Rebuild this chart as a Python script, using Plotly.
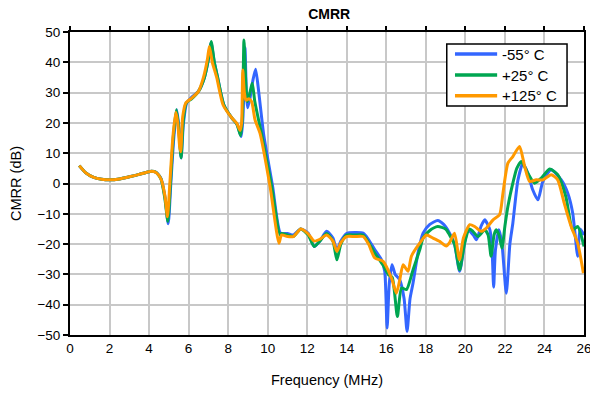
import plotly.graph_objects as go

title_text = "CMRR"
x_title = "Frequency (MHz)"
y_title = "CMRR (dB)"
series_names = ["-55° C", "+25° C", "+125° C"]
x_ticks = list(range(0, 27, 2))
y_ticks = list(range(-50, 51, 10))

freq_m55 = [0.47, 0.8, 1.2, 1.6, 2.0, 2.5, 3.0, 3.5, 4.06, 4.35, 4.6, 4.8, 4.97, 5.1, 5.25, 5.4, 5.52, 5.62, 5.74, 5.9,
            6.16, 6.5, 6.8, 7.0, 7.13, 7.3, 7.45, 7.78, 8.2, 8.45, 8.66, 8.75, 8.85, 8.92, 8.98, 9.1, 9.25, 9.39, 9.55, 9.8,
            10.25, 10.65, 11.0, 11.3, 11.67, 12.05, 12.35, 12.64, 12.98, 13.3, 13.5, 13.7, 13.99, 14.4, 14.83, 15.1, 15.42,
            15.76, 15.92, 16.04, 16.15, 16.29, 16.45, 16.68, 16.9, 17.05, 17.2, 17.35, 17.6, 17.86, 18.2, 18.6, 18.9, 19.2,
            19.45, 19.71, 19.95, 20.13, 20.4, 20.56, 20.8, 20.98, 21.24, 21.35, 21.43, 21.52, 21.7, 21.85, 22.07, 22.25,
            22.4, 22.66, 22.91, 23.16, 23.4, 23.67, 23.92, 24.34, 24.85, 25.18, 25.43, 25.68, 25.8, 26.0]
cmrr_m55 = [5.9, 3.5, 2.0, 1.4, 1.2, 1.5, 2.2, 3.0, 4.0, 3.7, 1.7, -4.3, -13.3, 0, 15, 24.3, 18, 8.4, 20, 26.5,
            28.5, 30.5, 35, 41, 46.5, 40, 35.5, 26, 21.5, 19.5, 15.5, 22, 44.8, 30, 25, 28, 34, 37.7, 30, 16,
            -1, -16.4, -16.5, -17, -15, -16.4, -20.8, -19, -15.8, -18, -22, -19, -16.5, -16.2, -16.4, -18.5, -21.9,
            -25.2, -29, -47.7, -33, -26.8, -30, -31.8, -38, -48.8, -38, -32.9, -23, -16.4, -13.5, -12.2, -13.5, -16.4,
            -20, -29, -20, -15.3, -17, -18.6, -14, -12, -15.3, -22, -34.2, -22, -15.3, -20, -36.2, -20,
            -13.1, 1.2, 6.7, 3.4, -2, -5.4, 0.7, 4.5, 1.2, -3.2, -9.8, -24, -15, -17]

freq_p25 = [0.47, 0.8, 1.2, 1.6, 2.0, 2.5, 3.0, 3.5, 4.06, 4.35, 4.6, 4.8, 4.95, 5.08, 5.22, 5.38, 5.5, 5.62, 5.72, 5.87,
            6.16, 6.5, 6.8, 7.0, 7.14, 7.3, 7.45, 7.78, 8.2, 8.45, 8.63, 8.72, 8.8, 8.88, 8.97, 9.1, 9.22, 9.35, 9.7,
            10.2, 10.62, 10.7, 11.0, 11.3, 11.67, 12.05, 12.35, 12.64, 12.98, 13.3, 13.5, 13.7, 13.99, 14.4, 14.83, 15.1,
            15.42, 15.84, 16.1, 16.3, 16.56, 16.77, 17.02, 17.35, 17.69, 17.86, 18.2, 18.6, 19.0, 19.2, 19.45, 19.71, 19.95,
            20.2, 20.38, 20.64, 20.98, 21.15, 21.3, 21.45, 21.56, 21.7, 21.85, 22.0, 22.15, 22.4, 22.6, 22.83, 23.16,
            23.5, 23.84, 24.26, 24.67, 25.08, 25.43, 25.68, 26.0]
cmrr_p25 = [5.9, 3.5, 2.0, 1.4, 1.2, 1.5, 2.2, 3.0, 4.0, 3.7, 1.5, -5, -12.5, 0, 15, 24.3, 18, 8.5, 20, 26.5,
            28, 30.4, 35, 41, 46.9, 40, 35.5, 26, 21.5, 19.5, 15.8, 22, 47.4, 35, 27, 30, 33.1, 27, 16,
            -1, -17, -16.5, -17, -17.5, -15, -17, -20.8, -19, -16.5, -19, -25.2, -20, -17, -17, -17, -19.5,
            -23, -27, -30, -31, -43.9, -34.5, -35, -28.5, -21.9, -18, -15.5, -14.2, -15, -17, -20, -28.5, -20,
            -15, -15.8, -17.5, -15.3, -17, -24, -17, -15.3, -17, -21.3, -14, -7.6, 0.1, 5, 7.3, 3.4,
            0.1, 1.8, 4.8, 2.9, -4.3, -15.3, -14.2, -20.8]

freq_p125 = [0.47, 0.8, 1.2, 1.6, 2.0, 2.5, 3.0, 3.5, 4.06, 4.35, 4.6, 4.8, 4.93, 5.05, 5.2, 5.35, 5.45, 5.55, 5.6, 5.7,
             5.85, 6.16, 6.5, 6.75, 6.95, 7.05, 7.2, 7.42, 7.74, 8.18, 8.43, 8.6, 8.68, 8.74, 8.82, 8.9, 9.05, 9.19, 9.36,
             9.61, 10.12, 10.57, 10.7, 11.0, 11.3, 11.67, 12.05, 12.35, 12.64, 12.98, 13.3, 13.5, 13.7, 13.99, 14.4, 14.83,
             15.1, 15.42, 15.84, 16.26, 16.51, 16.68, 16.85, 17.1, 17.27, 17.69, 18.03, 18.36, 18.7, 19.03, 19.2, 19.45,
             19.7, 19.9, 20.22, 20.47, 20.8, 21.06, 21.4, 21.73, 21.9, 22.15, 22.4, 22.74, 23.0, 23.25, 23.58, 23.92,
             24.34, 24.67, 25.0, 25.35, 25.68, 25.97]
cmrr_p125 = [5.9, 3.5, 2.0, 1.4, 1.2, 1.5, 2.2, 3.0, 4.0, 3.6, 1.5, -4, -11, 0, 15, 23.5, 20, 12, 10.5, 22,
             26.5, 28.2, 30.4, 35, 41, 45.2, 40, 35, 26, 21.7, 19.9, 17.5, 20, 37.5, 30, 27.5, 28, 27, 21,
             16.6, -1, -19.7, -17, -17.5, -17.5, -15, -16.6, -19, -18.4, -17, -19, -22.4, -19.5, -17.5, -17.5, -17.5,
             -20, -24.6, -25.7, -31.2, -36.2, -31.8, -26.8, -29, -24, -19.7, -17, -18, -19.1, -20.6, -19.5, -16.4,
             -25.2, -18, -13.6, -14.2, -15.8, -14.7, -12, -10.3, -3.2, 6.7, 8.9, 12.2, 5.6, 0.7, 1.2, 1.2,
             2.9, 1.2, -6.5, -14.2, -19.7, -29.6]

colors = ["#3366ff", "#00a651", "#ff9900"]

fig = go.Figure()
for name, xs, ys, c in zip(series_names, [freq_m55, freq_p25, freq_p125],
                           [cmrr_m55, cmrr_p25, cmrr_p125], colors):
    fig.add_trace(go.Scatter(x=xs, y=ys, mode="lines", name=name, showlegend=False,
                             line=dict(color=c, width=3, shape="spline", smoothing=0.6)))

# invisible trace for top axis ticks
fig.add_trace(go.Scatter(x=[0, 26], y=[0, 0], xaxis="x2", mode="lines",
                         line=dict(width=0), showlegend=False, hoverinfo="skip"))

# legend box drawn in paper coordinates
leg_x0, leg_x1, leg_y0, leg_y1 = 0.733, 0.967, 0.756, 0.960
row_y = [0.927, 0.858, 0.790]
shapes = [dict(type="rect", xref="paper", yref="paper", x0=leg_x0, x1=leg_x1, y0=leg_y0, y1=leg_y1,
               line=dict(color="black", width=1.5), fillcolor="white", layer="above")]
annotations = []
for name, c, ry in zip(series_names, colors, row_y):
    shapes.append(dict(type="line", xref="paper", yref="paper", x0=0.749, x1=0.831, y0=ry, y1=ry,
                       line=dict(color=c, width=3.5), layer="above"))
    annotations.append(dict(text=name, xref="paper", yref="paper", x=0.8375, y=ry, xanchor="left",
                            yanchor="middle", showarrow=False, font=dict(size=15)))

font_family = "Liberation Sans, Arial, sans-serif"
fig.update_layout(
    width=590, height=394,
    margin=dict(l=70, r=6, t=32, b=59),
    paper_bgcolor="white", plot_bgcolor="white",
    font=dict(family=font_family, size=13, color="black"),
    title=dict(text="<b>" + title_text + "</b>", x=0.558, xanchor="center", y=0.965, yanchor="middle",
               font=dict(size=14)),
    showlegend=False,
    shapes=shapes,
    annotations=annotations,
    xaxis=dict(range=[0, 26], tickvals=x_ticks, ticks="", showline=True, linecolor="black",
               linewidth=2, mirror=True, showgrid=True, gridcolor="#c8c8c8", gridwidth=1.5,
               zeroline=False, automargin=False, ticklabeloverflow="allow",
               title=dict(text=x_title, font=dict(size=14.5), standoff=20),
               tickfont=dict(size=13.5)),
    xaxis2=dict(range=[0, 26], tickvals=x_ticks, overlaying="x", side="top", ticks="outside",
                ticklen=5, tickcolor="black", tickwidth=1.5, showticklabels=False, showgrid=False,
                zeroline=False, showline=False, automargin=False),
    yaxis=dict(range=[-50, 50], tickvals=y_ticks, ticks="outside", ticklen=5, tickcolor="black",
               tickwidth=1.5, showline=True, linecolor="black", linewidth=2, mirror=True,
               showgrid=True, gridcolor="#c8c8c8", gridwidth=1.5, zeroline=False, automargin=False,
               title=dict(text=y_title, font=dict(size=14.5), standoff=12), tickfont=dict(size=13.5)),
)

fig.write_html("out.html")
